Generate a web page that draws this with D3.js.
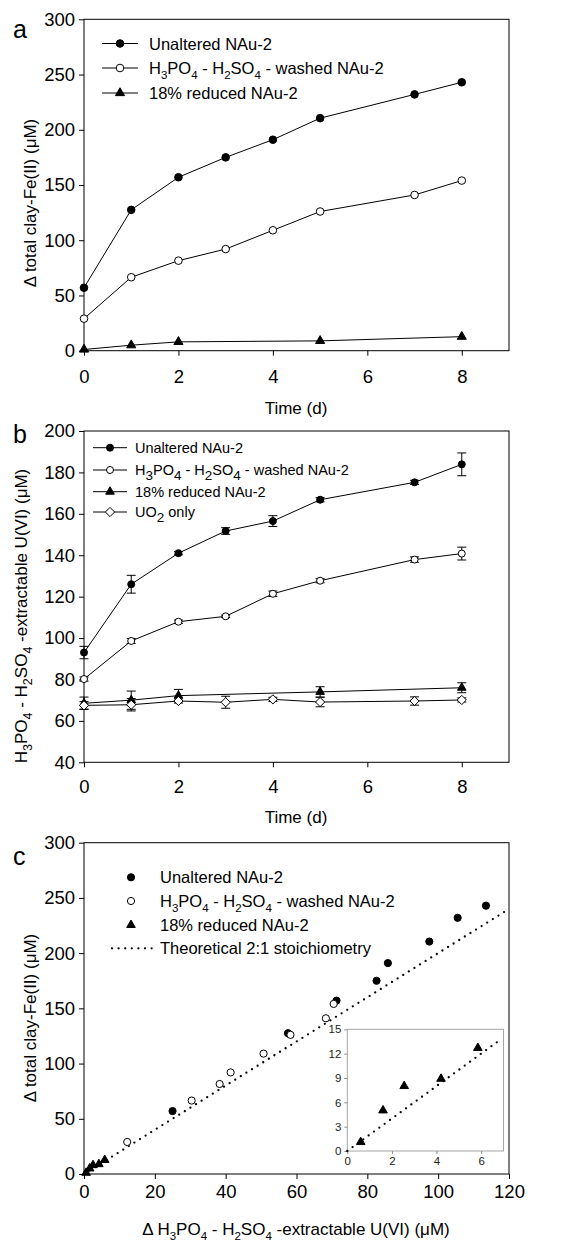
<!DOCTYPE html>
<html>
<head>
<meta charset="utf-8">
<script src="https://cdn.jsdelivr.net/npm/d3@7"></script>
<style>
body{margin:0;background:#fff;}
svg{display:block;font-family:"Liberation Sans",Arial,sans-serif;}
</style>
</head>
<body>
<svg id="fig" width="567" height="1242"></svg>
<script>
// time axis (days)
var days = [0,1,2,3,4,5,7,8];
var daysReduced = [0,1,2,5,8];

// panel a: delta total clay-Fe(II), uM
var feUnaltered = [57, 127.5, 157, 175, 191, 210.5, 232, 243];
var feWashed = [29, 66.5, 81.5, 92, 109, 126, 141, 154];
var feReduced = [1.1, 5, 8, 8.9, 12.7];

// panel b: extractable U(VI), uM (mean, error)
var uUnaltered = [93, 126, 141, 151.7, 156.5, 166.8, 175.2, 183.9];
var uUnalteredErr = [3, 4.3, 0.8, 1.6, 2.6, 1, 1, 5.5];
var uWashed = [80.2, 98.6, 107.9, 110.5, 121.4, 127.7, 137.9, 140.8];
var uWashedErr = [1, 1.2, 0.8, 0.6, 1.3, 1, 1.3, 3.1];
var uReduced = [68.5, 70, 72.2, 74, 76];
var uReducedErr = [3, 4.4, 3, 2.5, 2.4];
var uUO2 = [67.5, 67.8, 69.6, 69, 70.4, 69.1, 69.6, 70.1];
var uUO2Err = [1.8, 3, 1, 2.9, 1, 2.3, 2, 1];

// panel c: delta extractable U(VI), uM (y values reuse the Fe(II) arrays)
var dUUnaltered = [25, 57.6, 71.3, 82.6, 85.8, 97.5, 105.5, 113.5];
var dUWashed = [12.2, 30.4, 38.3, 41.4, 50.7, 58.3, 68.3, 70.5];
var dUReduced = [0.6, 1.6, 2.55, 4.2, 5.85];
var stoichX = [0, 120];
var stoichXInset = [0, 6.9];
var stoichRatio = 2;

// tick labels
var timeTicks = [0,2,4,6,8];
var feTicks = [0,50,100,150,200,250,300];
var uTicks = [40,60,80,100,120,140,160,180,200];
var dUTicks = [0,20,40,60,80,100,120];
var insetXTicks = [0,2,4,6];
var insetYTicks = [0,3,6,9,12,15];

var washedLabel = [["H"],["3",1],["PO"],["4",1],[" - H"],["2",1],["SO"],["4",1],[" - washed NAu-2"]];
var uTitle = [["H"],["3",1],["PO"],["4",1],[" - H"],["2",1],["SO"],["4",1],[" -extractable U(VI) (\u03bcM)"]];
var dUTitle = [["\u0394 H"],["3",1],["PO"],["4",1],[" - H"],["2",1],["SO"],["4",1],[" -extractable U(VI) (\u03bcM)"]];
var feTitle = "\u0394 total clay-Fe(II) (\u03bcM)";

var svg = d3.select('#fig');
var xLeft = 84, xRight = 509;
var fmt = d3.format('d');

function rich(t, parts, subSize, shift){
	var down = false;
	parts.forEach(function(p){
		var ts = t.append('tspan').text(p[0]);
		if(p[1]){
			ts.attr('font-size', subSize).attr('dy', down ? 0 : shift);
			down = true;
		}else{
			if(down) ts.attr('dy', -shift);
			down = false;
		}
	});
}

function symbolPath(type, s){
	if(type=='tri') return d3.symbol().type(d3.symbolTriangle).size(s)();
	if(type=='dia'){
		var r = s;
		return 'M0,'+(-r)+'L'+r+',0L0,'+r+'L'+(-r)+',0Z';
	}
	return null;
}

function marks(g, xs, ys, type, filled, size){
	if(type=='circle'){
		g.selectAll(null).data(xs).enter().append('circle')
			.attr('cx', function(d){ return d[0]; })
			.attr('cy', function(d,i){ return ys[i]; })
			.attr('r', size)
			.attr('fill', filled ? '#000' : '#fff')
			.attr('stroke','#000').attr('stroke-width',1);
	}else{
		g.selectAll(null).data(xs).enter().append('path')
			.attr('transform', function(d,i){ return 'translate('+d[0]+','+ys[i]+')'; })
			.attr('d', symbolPath(type, size))
			.attr('fill', filled ? '#000' : '#fff')
			.attr('stroke','#000').attr('stroke-width',1);
	}
}

function panel(cfg){
	var x = d3.scaleLinear().domain(cfg.xDomain).range([xLeft, xRight]);
	var y = d3.scaleLinear().domain(cfg.yDomain).range([cfg.yBottom, cfg.yTop]);
	var g = svg.append('g');
	g.append('rect')
		.attr('x', xLeft).attr('y', cfg.yTop)
		.attr('width', xRight-xLeft).attr('height', cfg.yBottom-cfg.yTop)
		.attr('fill','none').attr('stroke','#000').attr('stroke-width',1);
	var ax = g.append('g').attr('transform','translate(0,'+cfg.yBottom+')')
		.call(d3.axisBottom(x).tickValues(cfg.xTicks).tickFormat(fmt).tickSize(5).tickPadding(cfg.xPad).tickSizeOuter(0));
	var ay = g.append('g').attr('transform','translate('+xLeft+',0)')
		.call(d3.axisLeft(y).tickValues(cfg.yTicks).tickFormat(fmt).tickSize(5).tickPadding(4).tickSizeOuter(0));
	[ax, ay].forEach(function(a){
		a.attr('font-family', null).attr('font-size', null);
		a.select('.domain').remove();
		a.selectAll('text').attr('font-size', 18.5).attr('fill','#000');
	});
	g.append('text').attr('x', 13).attr('y', cfg.letterY).attr('font-size', 25).text(cfg.letter);
	return {g:g, x:x, y:y};
}

// ---------- panel a ----------
var pa = panel({xDomain:[0,9], yDomain:[0,300], yTop:19.3, yBottom:350.7, xTicks:timeTicks, yTicks:feTicks, xPad:14, letter:'a', letterY:38});
var line = d3.line();
[[days, feUnaltered],[days, feWashed],[daysReduced, feReduced]].forEach(function(s){
	pa.g.append('path')
		.attr('d', line(s[0].map(function(t,i){ return [pa.x(t), pa.y(s[1][i])]; })))
		.attr('fill','none').attr('stroke','#000').attr('stroke-width',1);
});
marks(pa.g, days.map(function(t){ return [pa.x(t)]; }), feUnaltered.map(pa.y), 'circle', true, 3.8);
marks(pa.g, days.map(function(t){ return [pa.x(t)]; }), feWashed.map(pa.y), 'circle', false, 3.8);
marks(pa.g, daysReduced.map(function(t){ return [pa.x(t)]; }), feReduced.map(pa.y), 'tri', true, 36);

pa.g.append('text').attr('transform','translate(36,203) rotate(-90)').attr('text-anchor','middle').attr('font-size',17).text(feTitle);
pa.g.append('text').attr('x', 296).attr('y', 414).attr('text-anchor','middle').attr('font-size',17).text('Time (d)');

var legA = [
	{label:[["Unaltered NAu-2"]], type:'circle', filled:true, size:3.8},
	{label:washedLabel, type:'circle', filled:false, size:3.8},
	{label:[["18% reduced NAu-2"]], type:'tri', filled:true, size:36}
];
var legAY = [43.5, 68, 93];
legA.forEach(function(d,i){
	var yy = legAY[i];
	pa.g.append('line').attr('x1',102).attr('x2',138).attr('y1',yy).attr('y2',yy).attr('stroke','#000');
	marks(pa.g, [[120]], [yy], d.type, d.filled, d.size);
	var t = pa.g.append('text').attr('x',149).attr('y',yy+6).attr('font-size',16.5);
	rich(t, d.label, 11.5, 5);
});

// ---------- panel b ----------
var pb = panel({xDomain:[0,9], yDomain:[40,200], yTop:431, yBottom:762.3, xTicks:timeTicks, yTicks:uTicks, xPad:13, letter:'b', letterY:443});
var seriesB = [
	{t:days, v:uUnaltered, e:uUnalteredErr, type:'circle', filled:true, size:3.5},
	{t:days, v:uWashed, e:uWashedErr, type:'circle', filled:false, size:3.5},
	{t:daysReduced, v:uReduced, e:uReducedErr, type:'tri', filled:true, size:32},
	{t:days, v:uUO2, e:uUO2Err, type:'dia', filled:false, size:4.6}
];
seriesB.forEach(function(s){
	s.t.forEach(function(t,i){
		var cx = pb.x(t), y1 = pb.y(s.v[i]+s.e[i]), y2 = pb.y(s.v[i]-s.e[i]);
		pb.g.append('line').attr('x1',cx).attr('x2',cx).attr('y1',y1).attr('y2',y2).attr('stroke','#000');
		pb.g.append('line').attr('x1',cx-4.5).attr('x2',cx+4.5).attr('y1',y1).attr('y2',y1).attr('stroke','#000');
		pb.g.append('line').attr('x1',cx-4.5).attr('x2',cx+4.5).attr('y1',y2).attr('y2',y2).attr('stroke','#000');
	});
	pb.g.append('path')
		.attr('d', line(s.t.map(function(t,i){ return [pb.x(t), pb.y(s.v[i])]; })))
		.attr('fill','none').attr('stroke','#000').attr('stroke-width',1);
});
seriesB.forEach(function(s){
	marks(pb.g, s.t.map(function(t){ return [pb.x(t)]; }), s.v.map(pb.y), s.type, s.filled, s.size);
});
var tb = pb.g.append('text').attr('transform','translate(27,616) rotate(-90)').attr('text-anchor','middle').attr('font-size',17);
rich(tb, uTitle, 12.5, 5);
pb.g.append('text').attr('x', 296).attr('y', 823).attr('text-anchor','middle').attr('font-size',17).text('Time (d)');

var legB = [
	{label:[["Unaltered NAu-2"]]},
	{label:washedLabel},
	{label:[["18% reduced NAu-2"]]},
	{label:[["UO"],["2",1],[" only"]]}
];
var legBY = [447.7, 470, 491.7, 512];
legB.forEach(function(d,i){
	var yy = legBY[i], s = seriesB[i];
	pb.g.append('line').attr('x1',93).attr('x2',127).attr('y1',yy).attr('y2',yy).attr('stroke','#000');
	marks(pb.g, [[110]], [yy], s.type, s.filled, s.size);
	var t = pb.g.append('text').attr('x',135).attr('y',yy+5).attr('font-size',14.5);
	rich(t, d.label, 13.5, 5);
});

// ---------- panel c ----------
var pc = panel({xDomain:[0,120], yDomain:[0,300], yTop:842.7, yBottom:1174, xTicks:dUTicks, yTicks:feTicks, xPad:6, letter:'c', letterY:865});
function dotted(g, pts){
	g.append('path').attr('d', line(pts))
		.attr('fill','none').attr('stroke','#000').attr('stroke-width',2.3)
		.attr('stroke-linecap','round').attr('stroke-dasharray','0 6.6');
}
dotted(pc.g, stoichX.map(function(v){ return [pc.x(v), pc.y(v*stoichRatio)]; }));
marks(pc.g, dUUnaltered.map(function(v){ return [pc.x(v)]; }), feUnaltered.map(pc.y), 'circle', true, 3.6);
marks(pc.g, dUWashed.map(function(v){ return [pc.x(v)]; }), feWashed.map(pc.y), 'circle', false, 3.6);
marks(pc.g, dUReduced.map(function(v){ return [pc.x(v)]; }), feReduced.map(pc.y), 'tri', true, 32);

var tc = pc.g.append('text').attr('transform','translate(36,1018) rotate(-90)').attr('text-anchor','middle').attr('font-size',17).text(feTitle);
var tcx = pc.g.append('text').attr('x', 296).attr('y', 1235).attr('text-anchor','middle').attr('font-size',17);
rich(tcx, dUTitle, 11.5, 5);

var legC = [
	{label:[["Unaltered NAu-2"]], type:'circle', filled:true, size:3.6},
	{label:washedLabel, type:'circle', filled:false, size:3.6},
	{label:[["18% reduced NAu-2"]], type:'tri', filled:true, size:32},
	{label:[["Theoretical 2:1 stoichiometry"]], type:'dot'}
];
var legCY = [877.3, 901, 925, 948.3];
legC.forEach(function(d,i){
	var yy = legCY[i];
	if(d.type=='dot') dotted(pc.g, [[112,yy],[152,yy]]);
	else marks(pc.g, [[131]], [yy], d.type, d.filled, d.size);
	var t = pc.g.append('text').attr('x',160).attr('y',yy+6).attr('font-size',16.5);
	rich(t, d.label, 11.5, 5);
});

// inset
var ix = d3.scaleLinear().domain([0,7]).range([347.3, 503.5]);
var iy = d3.scaleLinear().domain([0,15]).range([1151, 1029.3]);
var ig = pc.g.append('g');
ig.append('rect').attr('x',347.3).attr('y',1029.3).attr('width',503.5-347.3).attr('height',1151-1029.3)
	.attr('fill','#fff').attr('stroke','#a6a6a6').attr('stroke-width',1);
var iax = ig.append('g').attr('transform','translate(0,1151)')
	.call(d3.axisBottom(ix).tickValues(insetXTicks).tickFormat(fmt).tickSize(3).tickPadding(3).tickSizeOuter(0));
var iay = ig.append('g').attr('transform','translate(347.3,0)')
	.call(d3.axisLeft(iy).tickValues(insetYTicks).tickFormat(fmt).tickSize(3).tickPadding(3).tickSizeOuter(0));
[iax, iay].forEach(function(a){
	a.attr('font-family', null).attr('font-size', null);
	a.select('.domain').remove();
	a.selectAll('line').attr('stroke','#8c8c8c');
	a.selectAll('text').attr('font-size', 11.5).attr('fill','#222');
});
dotted(ig, stoichXInset.map(function(v){ return [ix(v), iy(v*stoichRatio)]; }));
marks(ig, dUReduced.map(function(v){ return [ix(v)]; }), feReduced.map(iy), 'tri', true, 32);
</script>
</body>
</html>
